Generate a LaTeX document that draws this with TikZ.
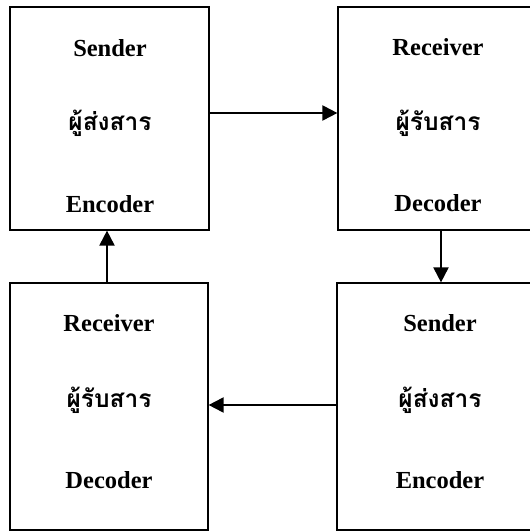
\documentclass[tikz,border=0pt]{standalone}
\usepackage{fontspec}
\setmainfont{Liberation Serif}
\newfontfamily\thaifont[Script=Thai]{Loma}
\usetikzlibrary{arrows.meta}

\tikzset{
	box/.style={draw=black, line width=1.2pt, inner sep=0pt},
	word/.style={font=\bfseries\fontsize{24.5}{28}\selectfont},
	thai/.style={font=\thaifont\bfseries\fontsize{24.5}{28}\selectfont},
	arr/.style={line width=2pt, -{Triangle[length=15pt,width=15pt]}}
}

\begin{document}
\begin{tikzpicture}[x=1pt,y=1pt]
	\useasboundingbox (0,0) rectangle (530,531);

	\node[box, minimum width=199pt, minimum height=223pt] (sendA) at (109.5,412.5) {};
	\node[box, minimum width=202pt, minimum height=223pt] (recvA) at (439,412.5) {};
	\node[box, minimum width=198pt, minimum height=247pt] (recvB) at (109,124.5) {};
	\node[box, minimum width=203pt, minimum height=247pt] (sendB) at (438.5,124.5) {};

	\node[word] (sendAtop) at (110,483) {Sender};
	\node[thai] (sendAmid) at (110,408) {ผู้ส่งสาร};
	\node[word] (sendAbot) at (110,327) {Encoder};

	\node[word] (recvAtop) at (438,484) {Receiver};
	\node[thai] (recvAmid) at (438,408) {ผู้รับสาร};
	\node[word] (recvAbot) at (438,328) {Decoder};

	\node[word] (recvBtop) at (109,208) {Receiver};
	\node[thai] (recvBmid) at (109,131) {ผู้รับสาร};
	\node[word] (recvBbot) at (109,51) {Decoder};

	\node[word] (sendBtop) at (440,208) {Sender};
	\node[thai] (sendBmid) at (440,131) {ผู้ส่งสาร};
	\node[word] (sendBbot) at (440,51) {Encoder};

	\draw[arr] ([yshift=5.5pt]sendA.east) -- ([yshift=5.5pt]recvA.west);
	\draw[arr] ([xshift=2pt]recvA.south) -- ([xshift=2pt]recvA.south |- sendB.north);
	\draw[arr] ([yshift=1.5pt]sendB.west) -- ([yshift=1.5pt]recvB.east);
	\draw[arr] ([xshift=-2pt]recvB.north) -- ([xshift=-2pt]recvB.north |- sendA.south);
\end{tikzpicture}
\end{document}
